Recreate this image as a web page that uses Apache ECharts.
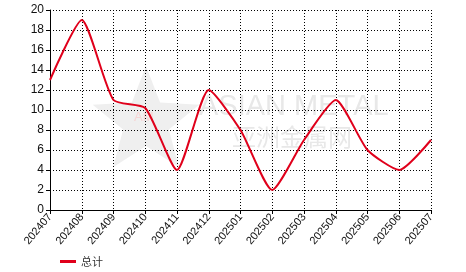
<!DOCTYPE html>
<html><head><meta charset="utf-8">
<script src="https://cdn.jsdelivr.net/npm/echarts@6/dist/echarts.min.js"></script>
<style>html,body{margin:0;padding:0;background:#fff}#c{width:466px;height:272px}</style>
</head><body><div id="c"></div>
<script>
const categories = ['202407','202408','202409','202410','202411','202412','202501','202502','202503','202504','202505','202506','202507'];
const totalValues = [13, 19, 11, 10.2, 4, 12, 8, 2, 7, 11, 6, 4, 7];
const seriesName = '总计';
const yTicks = {min: 0, max: 20, interval: 2};

function starPoints(cx, cy, R, r) {
  const pts = [];
  for (let i = 0; i < 10; i++) {
    const a = -Math.PI / 2 + i * Math.PI / 5;
    const rad = i % 2 === 0 ? R : r;
    pts.push([cx + rad * Math.cos(a), cy + rad * Math.sin(a)]);
  }
  return pts;
}

const chart = echarts.init(document.getElementById('c'), null, {renderer: 'canvas'});
chart.setOption({
  animation: false,
  backgroundColor: '#fff',
  graphic: [
    {type: 'polygon', z: 0, shape: {points: starPoints(146, 122, 56, 24)}, style: {fill: '#efefef'}},
    {type: 'text', x: 134, y: 111, z: 0, style: {text: 'AM', font: '13px "Liberation Sans"', fill: '#f6d4d4'}},
    {type: 'text', x: 199, y: 92, z: 0, style: {text: 'ASIAN METAL', font: '29px "Liberation Sans"', fill: '#e8e8e8'}},
    {type: 'text', x: 232, y: 125, z: 0, style: {text: '亚洲金属网', font: '24px "Noto Sans CJK SC"', fill: '#e8e8e8'}}
  ],
  grid: {left: 50, right: 35, top: 10, bottom: 62, containLabel: false},
  legend: {
    left: 55, top: 251, itemWidth: 16, itemHeight: 3, itemGap: 10,
    icon: 'rect',
    textStyle: {fontSize: 11, color: '#333', fontFamily: 'Noto Sans CJK SC'},
    data: [seriesName]
  },
  xAxis: {
    type: 'category', data: categories, boundaryGap: false,
    axisLine: {lineStyle: {color: '#000', width: 1}},
    axisTick: {show: true, alignWithLabel: true, length: 4, lineStyle: {color: '#000'}},
    axisLabel: {rotate: 50, color: '#111', fontSize: 11, fontFamily: 'Liberation Sans', margin: 5, interval: 0},
    splitLine: {show: true, lineStyle: {color: '#000', type: [1, 2], width: 1}}
  },
  yAxis: {
    type: 'value', min: yTicks.min, max: yTicks.max, interval: yTicks.interval,
    axisLine: {show: true, lineStyle: {color: '#000', width: 1}},
    axisTick: {show: true, length: 4, lineStyle: {color: '#000'}},
    axisLabel: {color: '#111', fontSize: 12, fontFamily: 'Liberation Sans', margin: 6},
    splitLine: {show: true, lineStyle: {color: '#000', type: [1, 2], width: 1}}
  },
  series: [{
    name: seriesName, type: 'line', data: totalValues, smooth: 0.2,
    symbol: 'none', z: 5,
    lineStyle: {color: '#e0001b', width: 2},
    itemStyle: {color: '#e0001b'}
  }]
});
</script></body></html>
